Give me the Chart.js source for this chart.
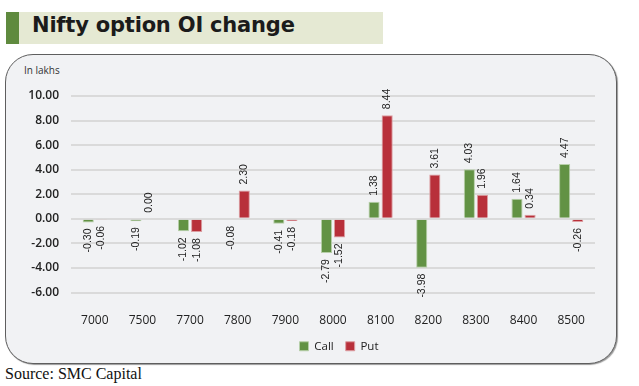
<!DOCTYPE html>
<html>
<head>
<meta charset="utf-8">
<script src="https://cdn.jsdelivr.net/npm/chart.js@4"></script>
<style>
  html, body { margin: 0; padding: 0; background: #ffffff; width: 639px; height: 386px; overflow: hidden; }
  #banner { position: absolute; left: 6px; top: 12px; width: 377px; height: 32px; background: #e5e9d3; }
  #banner .mark { position: absolute; left: 0; top: 0; width: 13px; height: 32px; background: #5f8a3e; }
  #banner .txt { position: absolute; left: 26px; top: 1px; font-family: "DejaVu Sans", Verdana, sans-serif; font-weight: bold; font-size: 21px; color: #1b1b1b; white-space: nowrap; letter-spacing: -0.2px; }
  #box { position: absolute; left: 5px; top: 54px; width: 610px; height: 308px; background: #f1f2f4; border: 1.5px solid #5e5e5e; border-radius: 28px; box-shadow: 1px 1px 1px #9a9a9a; }
  #unit { position: absolute; left: 24px; top: 63px; font-family: "Open Sans", sans-serif; font-size: 10px; color: #333; }
  #source { position: absolute; left: 5px; top: 365px; font-family: "Liberation Serif", "Times New Roman", serif; font-size: 16px; color: #111; white-space: nowrap; }
  #wrap { position: absolute; left: 0; top: 0; width: 639px; height: 386px; }
</style>
</head>
<body>
<div id="banner"><div class="mark"></div><div class="txt">Nifty option OI change</div></div>
<div id="box"></div>
<div id="unit">In lakhs</div>
<div id="source">Source: SMC Capital</div>
<div id="wrap"><canvas id="c" width="639" height="386"></canvas></div>
<script>
const strikes = ["7000", "7500", "7700", "7800", "7900", "8000", "8100", "8200", "8300", "8400", "8500"];
const callOI = [-0.30, -0.19, -1.02, -0.08, -0.41, -2.79, 1.38, -3.98, 4.03, 1.64, 4.47];
const putOI  = [-0.06, 0.00, -1.08, 2.30, -0.18, -1.52, 8.44, 3.61, 1.96, 0.34, -0.26];
const yMin = -6, yMax = 10, yStep = 2;

const valueLabels = {
  id: 'valueLabels',
  afterDatasetsDraw(chart) {
    const ctx = chart.ctx;
    ctx.save();
    ctx.font = '10.5px "Liberation Sans", Arial, sans-serif';
    ctx.fillStyle = '#222';
    ctx.textBaseline = 'middle';
    chart.data.datasets.forEach((ds, di) => {
      const meta = chart.getDatasetMeta(di);
      meta.data.forEach((el, i) => {
        const v = ds.data[i];
        const txt = v.toFixed(2);
        ctx.save();
        if (v >= 0) {
          ctx.translate(el.x, Math.min(el.y, el.base) - 6);
          ctx.rotate(-Math.PI / 2);
          ctx.textAlign = 'left';
        } else {
          ctx.translate(el.x, Math.max(el.y, el.base) + 6);
          ctx.rotate(-Math.PI / 2);
          ctx.textAlign = 'right';
        }
        ctx.fillText(txt, 0, 0);
        ctx.restore();
      });
    });
    ctx.restore();
  }
};

const centerLegend = {
  id: 'centerLegend',
  afterLayout(chart) {
    const lg = chart.legend, ca = chart.chartArea;
    if (!lg) return;
    const d = (ca.left + ca.right) / 2 + 6 - (lg.left + lg.right) / 2;
    lg.left += d; lg.right += d;
  }
};

new Chart(document.getElementById('c'), {
  type: 'bar',
  data: {
    labels: strikes,
    datasets: [
      { label: 'Call', data: callOI, backgroundColor: '#629244', borderColor: '#b7cfa9', borderWidth: 1,
        categoryPercentage: 0.55, barPercentage: 0.85 },
      { label: 'Put', data: putOI, backgroundColor: '#b8303a', borderColor: '#dc9ea2', borderWidth: 1,
        categoryPercentage: 0.55, barPercentage: 0.85 }
    ]
  },
  options: {
    responsive: false,
    animation: false,
    devicePixelRatio: 1,
    layout: { padding: { left: 0, right: 44, top: 96, bottom: 24 } },
    plugins: {
      title: { display: false },
      tooltip: { enabled: false },
      legend: {
        position: 'bottom',
        labels: {
          boxWidth: 9, boxHeight: 9, padding: 12,
          font: { family: '"Open Sans", sans-serif', size: 11.5 },
          color: '#222'
        }
      }
    },
    scales: {
      x: {
        grid: { display: false, drawTicks: false },
        border: { display: false },
        ticks: { padding: 21, color: '#222', font: { family: '"Open Sans", sans-serif', size: 12 } },
        afterFit(scale) { scale.height = 36; }
      },
      y: {
        min: yMin, max: yMax,
        grid: { color: '#dadada', lineWidth: 2, drawTicks: false },
        border: { display: false },
        ticks: {
          stepSize: yStep, padding: 12, color: '#222',
          font: { family: '"Open Sans", sans-serif', size: 12, weight: '600' },
          callback: (v) => Number(v).toFixed(2)
        },
        afterFit(scale) { scale.width = 71; }
      }
    }
  },
  plugins: [valueLabels, centerLegend]
});
</script>
</body>
</html>
